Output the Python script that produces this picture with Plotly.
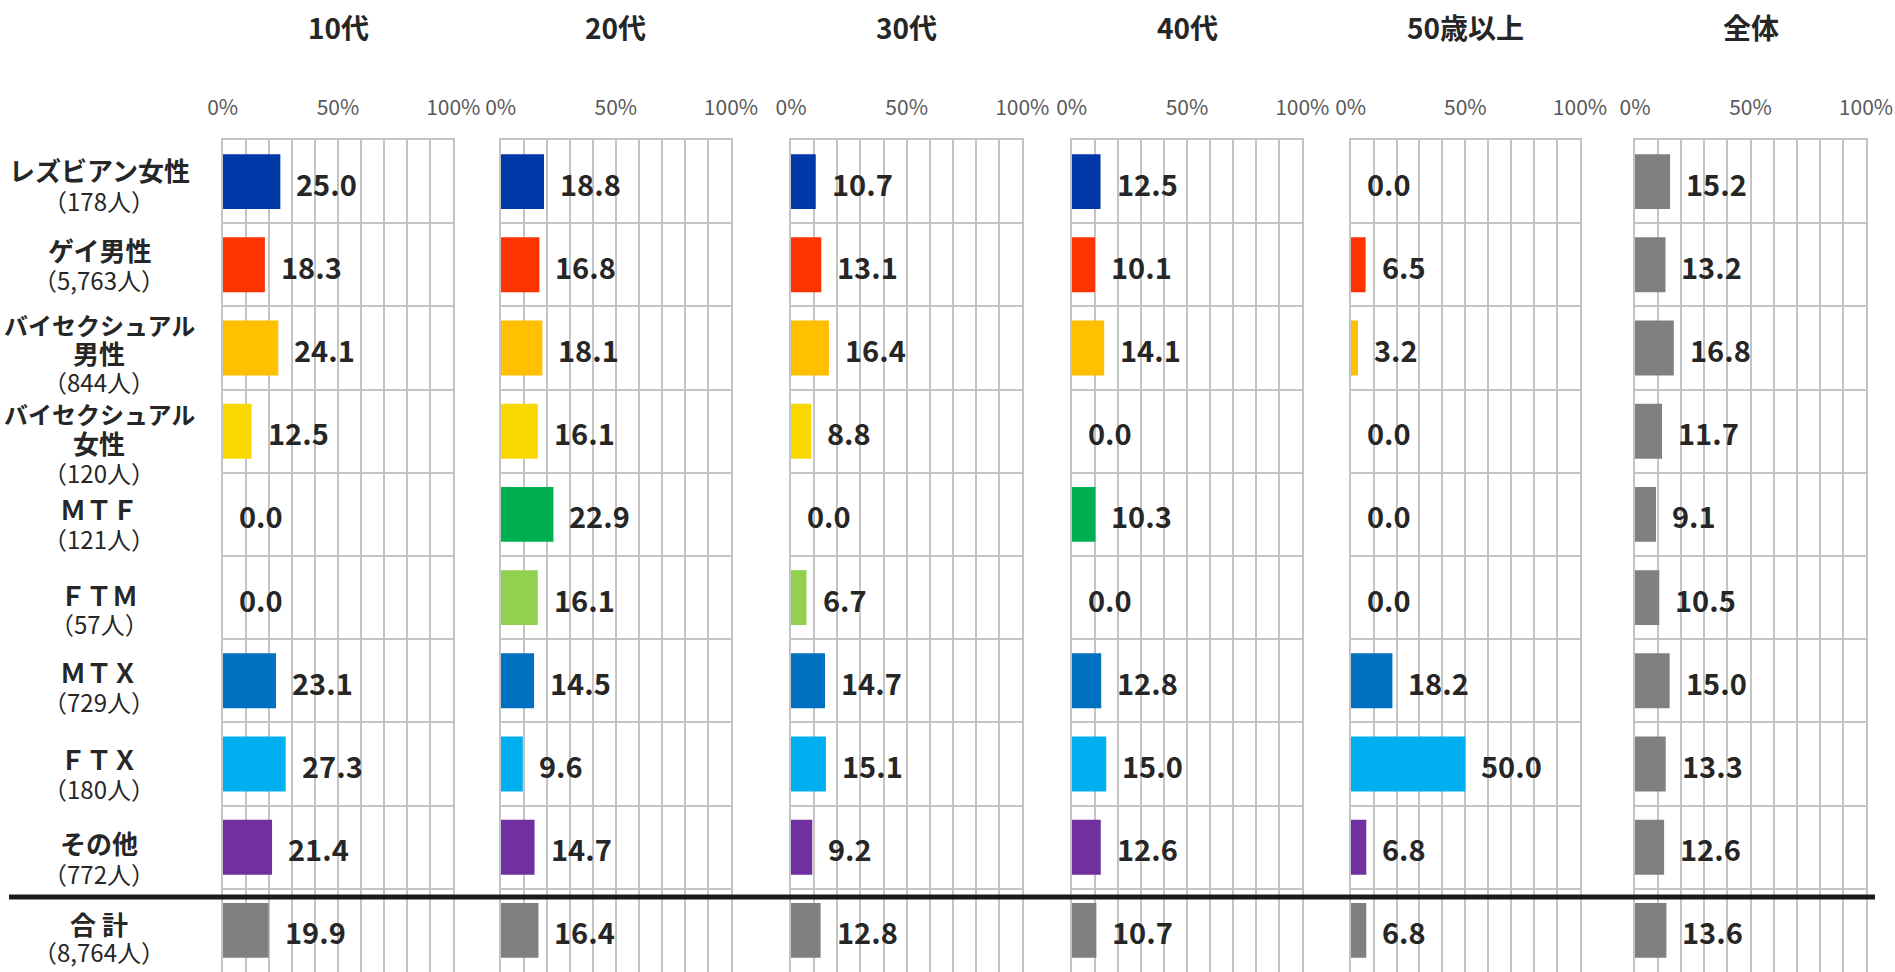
import plotly.graph_objects as go

W, H = 1895, 972
TOP, BOTTOM = 140, 0

panels = ["10代", "20代", "30代", "40代", "50歳以上", "全体"]
cat_names = ["レズビアン女性", "ゲイ男性", "バイセクシュアル<br>男性", "バイセクシュアル<br>女性",
             "ＭＴＦ", "ＦＴＭ", "ＭＴＸ", "ＦＴＸ", "その他", "合 計"]
cat_counts = ["（178人）", "（5,763人）", "（844人）", "（120人）", "（121人）",
              "（57人）", "（729人）", "（180人）", "（772人）", "（8,764人）"]

v_10s = [25.0, 18.3, 24.1, 12.5, 0.0, 0.0, 23.1, 27.3, 21.4, 19.9]
v_20s = [18.8, 16.8, 18.1, 16.1, 22.9, 16.1, 14.5, 9.6, 14.7, 16.4]
v_30s = [10.7, 13.1, 16.4, 8.8, 0.0, 6.7, 14.7, 15.1, 9.2, 12.8]
v_40s = [12.5, 10.1, 14.1, 0.0, 10.3, 0.0, 12.8, 15.0, 12.6, 10.7]
v_50s = [0.0, 6.5, 3.2, 0.0, 0.0, 0.0, 18.2, 50.0, 6.8, 6.8]
v_all = [15.2, 13.2, 16.8, 11.7, 9.1, 10.5, 15.0, 13.3, 12.6, 13.6]
values = [v_10s, v_20s, v_30s, v_40s, v_50s, v_all]

cat_colors = ["#0038A8", "#FF3300", "#FFC000", "#F8D800", "#00B050",
              "#92D050", "#0070C0", "#00B0F0", "#7030A0", "#808080"]
total_color = "#808080"

tick_vals = [0, 50, 100]
tick_text = ["0%", "50%", "100%"]

# layout: panel pixel extents and per-line vertical offsets (px) of row labels
panel_px = [(222.7, 453.3), (500.7, 731.0), (791.0, 1022.3),
            (1071.7, 1302.3), (1350.7, 1580.0), (1635.0, 1866.0)]
label_line_offsets = [[-12, 19], [-15, 15], [-24, 4, 33], [-18, 11, 41], [-6, 24],
                      [-3, 26], [-9, 21], [-6, 24], [-5, 26], [-7, 21]]

FONT = "Noto Sans CJK JP, Noto Sans, sans-serif"
GRID = "#C4C4C4"
TXT = "#262626"

fig = go.Figure()
n = len(cat_names)
ys = list(range(n))
annotations = []

for i, (name, vals) in enumerate(zip(panels, values)):
    ax = "" if i == 0 else str(i + 1)
    colors = [total_color] * n if name == "全体" else cat_colors
    fig.add_trace(go.Bar(
        x=vals, y=ys, orientation="h", width=0.66,
        marker=dict(color=colors, line=dict(width=0)),
        xaxis="x" + ax, yaxis="y" + ax, showlegend=False,
        hoverinfo="x+y",
    ))
    x0, x1 = panel_px[i]
    fig.update_layout(**{
        "xaxis" + ax: dict(
            domain=[x0 / W, x1 / W], range=[0, 100], side="top",
            anchor="y" + ax, automargin=False,
            tickvals=tick_vals, ticktext=tick_text,
            ticks="outside", ticklen=15, tickcolor="rgba(0,0,0,0)",
            tickfont=dict(size=21, color="#595959", family=FONT),
            showgrid=True, gridcolor=GRID, gridwidth=2,
            minor=dict(dtick=10, tick0=0, showgrid=True, gridcolor=GRID, gridwidth=2),
            showline=True, linecolor=GRID, linewidth=2, mirror=True,
            zeroline=False, fixedrange=True,
        ),
        "yaxis" + ax: dict(
            domain=[0, 1], range=[n - 0.5, -0.5], anchor="x" + ax, automargin=False,
            tickvals=[k - 0.5 for k in range(n + 1)],
            showticklabels=False, ticks="",
            showgrid=True, gridcolor=GRID, gridwidth=2,
            showline=True, linecolor=GRID, linewidth=2, mirror=True,
            zeroline=False, fixedrange=True,
        ),
    })
    # panel title
    annotations.append(dict(
        text="<b>" + name + "</b>", xref="paper", yref="paper",
        x=(x0 + x1) / 2 / W, y=1 + (TOP - 27) / (H - TOP - BOTTOM),
        xanchor="center", yanchor="middle", showarrow=False,
        font=dict(size=28, color=TXT, family=FONT),
    ))
    # value labels
    for k, v in enumerate(vals):
        annotations.append(dict(
            text="<b>%.1f</b>" % v, xref="x" + ax, yref="y" + ax,
            x=v, y=k, xanchor="left", yanchor="middle", xshift=14, yshift=-1,
            showarrow=False, font=dict(size=29, color=TXT, family=FONT),
        ))

# category labels, one annotation per line
for k, (nm, cnt) in enumerate(zip(cat_names, cat_counts)):
    lines = [("<b>" + p + "</b>", 26 if len(p) <= 7 else 24) for p in nm.split("<br>")]
    lines.append((cnt, 24))
    for (line, fs), off in zip(lines, label_line_offsets[k]):
        annotations.append(dict(
            text=line, xref="paper", yref="y", x=99 / W, y=k,
            xanchor="center", yanchor="middle", yshift=-off, showarrow=False,
            font=dict(size=fs, color=TXT, family=FONT),
        ))

# separator line above total row
fig.add_shape(type="line", xref="paper", yref="y", x0=9 / W, x1=1875 / W,
              y0=n - 1.5 + 0.1, y1=n - 1.5 + 0.1,
              line=dict(color="#1A1A1A", width=5), layer="above")

fig.update_layout(
    width=W, height=H,
    margin=dict(l=0, r=0, t=TOP, b=BOTTOM, autoexpand=False),
    paper_bgcolor="white", plot_bgcolor="white",
    font=dict(family=FONT, color=TXT),
    annotations=annotations,
)

fig.write_html("out.html", config={"displayModeBar": False},
               post_script="document.body.style.margin='0';document.body.style.overflow='hidden';")
